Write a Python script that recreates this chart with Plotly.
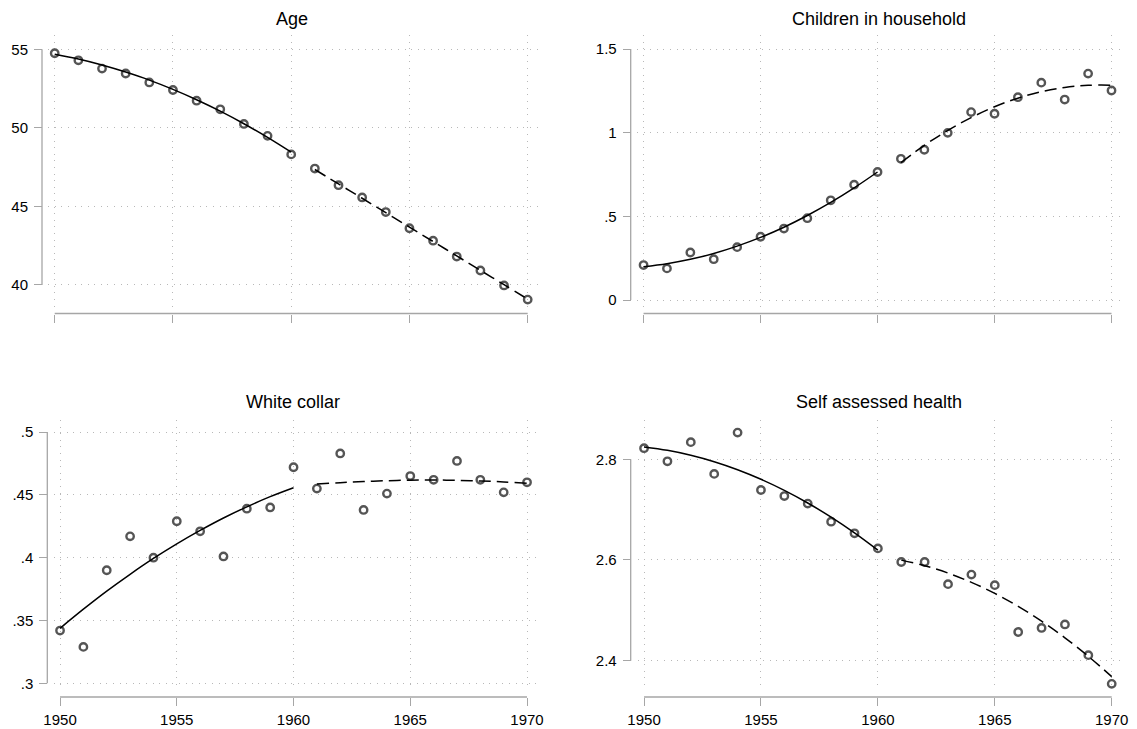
import plotly.graph_objects as go

W, H = 1137, 729

years = list(range(1950, 1971))
years_pre = list(range(1950, 1961))
years_post = list(range(1961, 1971))

# Panel titles
titles = ["Age", "Children in household", "White collar", "Self assessed health"]

# Yearly means
age = [54.75, 54.30, 53.77, 53.46, 52.89, 52.41, 51.73, 51.18, 50.25, 49.49, 48.31,
       47.41, 46.35, 45.57, 44.64, 43.61, 42.82, 41.81, 40.92, 39.97, 39.07]
children = [0.209, 0.189, 0.284, 0.244, 0.316, 0.378, 0.427, 0.489, 0.596, 0.689, 0.765,
            0.844, 0.898, 0.999, 1.123, 1.113, 1.212, 1.299, 1.198, 1.353, 1.252]
white_collar = [0.342, 0.329, 0.390, 0.417, 0.400, 0.429, 0.421, 0.401, 0.439, 0.440, 0.472,
                0.455, 0.483, 0.438, 0.451, 0.465, 0.462, 0.477, 0.462, 0.452, 0.460]
health = [2.822, 2.796, 2.834, 2.771, 2.853, 2.739, 2.727, 2.712, 2.676, 2.653, 2.623,
          2.596, 2.596, 2.552, 2.571, 2.550, 2.457, 2.465, 2.472, 2.411, 2.354]

# Quadratic fits, before and after 1960
age_fit_pre = [54.68, 54.38, 54.00, 53.55, 53.04, 52.45, 51.79, 51.06, 50.26, 49.39, 48.45]
age_fit_post = [47.35, 46.43, 45.52, 44.60, 43.68, 42.77, 41.85, 40.93, 40.02, 39.10]
children_fit_pre = [0.199, 0.217, 0.243, 0.278, 0.322, 0.374, 0.435, 0.505, 0.583, 0.670, 0.765]
children_fit_post = [0.821, 0.924, 1.013, 1.090, 1.155, 1.206, 1.245, 1.270, 1.283, 1.284]
white_collar_fit_pre = [0.3438, 0.3590, 0.3734, 0.3868, 0.3994, 0.4110, 0.4217, 0.4316,
                        0.4405, 0.4486, 0.4557]
white_collar_fit_post = [0.4586, 0.4597, 0.4606, 0.4613, 0.4617, 0.4618, 0.4616, 0.4611,
                         0.4603, 0.4592]
health_fit_pre = [2.8245, 2.8178, 2.8080, 2.7952, 2.7793, 2.7603, 2.7383, 2.7132, 2.6850,
                  2.6538, 2.6195]
health_fit_post = [2.5997, 2.5887, 2.5740, 2.5556, 2.5336, 2.5079, 2.4785, 2.4454, 2.4087,
                   2.3683]

# Axis ticks
x_ticks = [1950, 1955, 1960, 1965, 1970]
x_ticktext = ["1950", "1955", "1960", "1965", "1970"]
age_ticks = [40, 45, 50, 55]
age_ticktext = ["40", "45", "50", "55"]
children_ticks = [0, 0.5, 1, 1.5]
children_ticktext = ["0", ".5", "1", "1.5"]
white_collar_ticks = [0.3, 0.35, 0.4, 0.45, 0.5]
white_collar_ticktext = [".3", ".35", ".4", ".45", ".5"]
health_ticks = [2.4, 2.6, 2.8]
health_ticktext = ["2.4", "2.6", "2.8"]

series = [age, children, white_collar, health]
fits_pre = [age_fit_pre, children_fit_pre, white_collar_fit_pre, health_fit_pre]
fits_post = [age_fit_post, children_fit_post, white_collar_fit_post, health_fit_post]
yticks = [age_ticks, children_ticks, white_collar_ticks, health_ticks]
ytext = [age_ticktext, children_ticktext, white_collar_ticktext, health_ticktext]

# Panel geometry in pixels: plot area (left, right, top, bottom),
# y-axis line x, x-axis line y, y range, title centre
panels = [
    dict(l=48.1, r=538.8, t=35, b=306.5, yax=42.0, xax=313.5, yr=[38.63, 55.91], tx=291.5, ty=19),
    dict(l=637.0, r=1122.5, t=35, b=306.5, yax=630.7, xax=313.5, yr=[-0.0388, 1.5837], tx=879, ty=19),
    dict(l=53.5, r=538.0, t=420, b=690, yax=47.3, xax=697, yr=[0.2947, 0.5096], tx=293, ty=402),
    dict(l=637.5, r=1122.7, t=420, b=690, yax=630.7, xax=697, yr=[2.3418, 2.878], tx=879, ty=402),
]
x_range = [1949.72, 1970.47]

FONT = "Liberation Sans, Arial, sans-serif"
AXIS_GREY = "#a6a6a6"
GRID_GREY = "#b8b8b8"
MARKER_GREY = "#555555"


def to_paper(v, rng, dom):
    """Map an axis value to paper coordinates along that axis' domain."""
    return dom[0] + (v - rng[0]) / (rng[1] - rng[0]) * (dom[1] - dom[0])


fig = go.Figure()
shapes = []
annotations = []
layout = {}

for i, p in enumerate(panels):
    n = i + 1
    xa = "x" if n == 1 else f"x{n}"
    ya = "y" if n == 1 else f"y{n}"
    bottom_row = i >= 2
    xdom = [p["l"] / W, p["r"] / W]
    ydom = [1 - p["b"] / H, 1 - p["t"] / H]

    fig.add_trace(go.Scatter(
        x=years, y=series[i], mode="markers", xaxis=xa, yaxis=ya,
        marker=dict(symbol="circle-open", size=7.4, color=MARKER_GREY,
                    line=dict(width=2.4, color=MARKER_GREY)),
        showlegend=False, hoverinfo="x+y", cliponaxis=False))
    fig.add_trace(go.Scatter(
        x=years_pre, y=fits_pre[i], mode="lines", xaxis=xa, yaxis=ya,
        line=dict(color="black", width=1.5, shape="spline"), showlegend=False))
    fig.add_trace(go.Scatter(
        x=years_post, y=fits_post[i], mode="lines", xaxis=xa, yaxis=ya,
        line=dict(color="black", width=1.5, shape="spline", dash="12px,6px"),
        showlegend=False))

    xkey = "xaxis" if n == 1 else f"xaxis{n}"
    ykey = "yaxis" if n == 1 else f"yaxis{n}"
    layout[xkey] = dict(
        domain=xdom, range=x_range, anchor="free", position=1 - p["xax"] / H,
        tickmode="array", tickvals=x_ticks, ticktext=x_ticktext,
        ticks="outside", ticklen=8, tickwidth=1.3, tickcolor=AXIS_GREY,
        showticklabels=bottom_row, ticklabelstandoff=1, automargin=False,
        tickfont=dict(family=FONT, size=15, color="black"),
        showgrid=True, gridcolor=GRID_GREY, gridwidth=1, griddash="1px,5.6px",
        showline=False, zeroline=False, fixedrange=True)
    layout[ykey] = dict(
        domain=ydom, range=p["yr"], anchor="free", position=p["yax"] / W,
        tickmode="array", tickvals=yticks[i], ticktext=ytext[i],
        ticks="outside", ticklen=8, tickwidth=1.3, tickcolor=AXIS_GREY,
        ticklabelstandoff=3, automargin=False,
        tickfont=dict(family=FONT, size=15, color="black"),
        showgrid=True, gridcolor=GRID_GREY, gridwidth=1, griddash="1px,5.6px",
        showline=False, zeroline=False, fixedrange=True)

    # Axis lines spanning the tick range only (paper coordinates, not clipped)
    yl0 = to_paper(min(yticks[i]), p["yr"], ydom)
    yl1 = to_paper(max(yticks[i]), p["yr"], ydom)
    shapes.append(dict(type="line", xref="paper", yref="paper",
                       x0=p["yax"] / W, x1=p["yax"] / W, y0=yl0, y1=yl1,
                       line=dict(color=AXIS_GREY, width=1.3)))
    xl0 = to_paper(min(x_ticks), x_range, xdom)
    xl1 = to_paper(max(x_ticks), x_range, xdom)
    shapes.append(dict(type="line", xref="paper", yref="paper",
                       x0=xl0, x1=xl1, y0=1 - p["xax"] / H, y1=1 - p["xax"] / H,
                       line=dict(color=AXIS_GREY, width=1.3)))

    annotations.append(dict(text=titles[i], xref="paper", yref="paper",
                            x=p["tx"] / W, y=1 - p["ty"] / H,
                            xanchor="center", yanchor="middle", showarrow=False,
                            font=dict(family=FONT, size=18, color="black")))

fig.update_layout(
    width=W, height=H, margin=dict(l=0, r=0, t=0, b=0),
    paper_bgcolor="white", plot_bgcolor="white",
    shapes=shapes, annotations=annotations, showlegend=False, **layout)

fig.write_html("out.html", config={"displayModeBar": False})
